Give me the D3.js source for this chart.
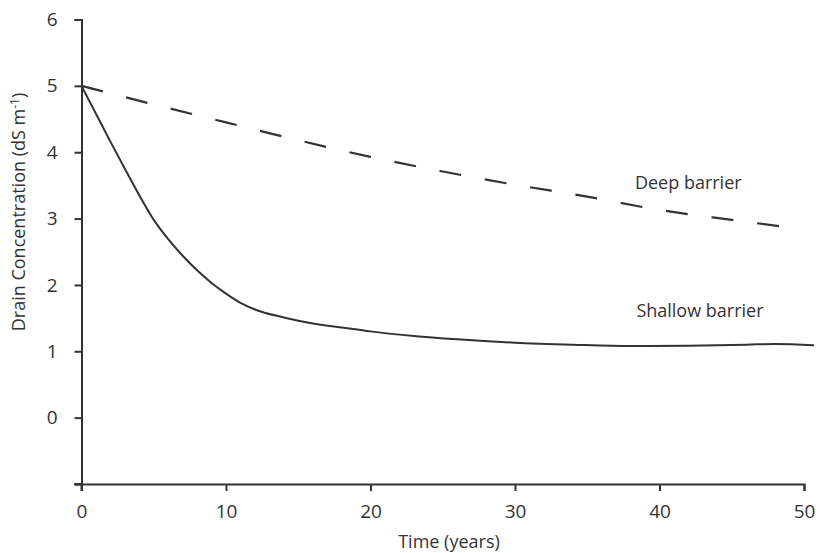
<!DOCTYPE html>
<html><head><meta charset="utf-8">
<script src="https://cdn.jsdelivr.net/npm/d3@7"></script>
<style>
body{margin:0;background:#fff;}
text{font-family:"Open Sans",sans-serif;fill:#333;}
</style></head>
<body><svg id="c" width="820" height="553"></svg>
<script>
const xTicks = [0,10,20,30,40,50];
const yTicks = [0,1,2,3,4,5,6];
const deepT = [0,5,10,15,20,25,30,35,40,45,48.5];
const deepV = [5.0,4.72,4.45,4.18,3.93,3.71,3.51,3.33,3.13,2.98,2.88];
const shallowT = [0,1,2,3,4,5,6,7,8,9,10,11,12,14,16,18,20,23,26,30,34,38,42,46,48,50.7];
const shallowV = [5.0,4.58,4.16,3.75,3.35,2.98,2.69,2.44,2.22,2.03,1.87,1.73,1.63,1.51,1.42,1.36,1.30,1.23,1.18,1.13,1.10,1.08,1.085,1.10,1.11,1.09];
const labels = [{text:"Deep barrier", t:38.3, v:3.445},{text:"Shallow barrier", t:38.4, v:1.517}];

const svg = d3.select("#c");
const x = d3.scaleLinear().domain([0,50]).range([81.5,804]);
const y = d3.scaleLinear().domain([-1,6]).range([484,19.5]);
const ink = "#333";

const xAxis = svg.append("g").attr("transform",`translate(0,${y(-1)})`)
  .call(d3.axisBottom(x).tickValues(xTicks).tickSize(7).tickPadding(14));
const yAxis = svg.append("g").attr("transform",`translate(${x(0)},0)`)
  .call(d3.axisLeft(y).tickValues(yTicks.concat([-1])).tickFormat(d=>d<0?"":d).tickSize(7).tickPadding(17));
[xAxis,yAxis].forEach(g=>{
  g.select(".domain").attr("stroke",ink).attr("stroke-width",2);
  g.selectAll(".tick line").attr("stroke",ink).attr("stroke-width",2);
  g.selectAll(".tick text").attr("font-size",19).attr("fill",ink).style("font-family","'Open Sans',sans-serif");
});
svg.append("line").attr("x1",x(0)).attr("x2",x(0)).attr("y1",y(-1)).attr("y2",y(-1)+7).attr("stroke",ink).attr("stroke-width",2);
svg.append("line").attr("x1",x(0)-7).attr("x2",x(0)).attr("y1",y(-1)).attr("y2",y(-1)).attr("stroke",ink).attr("stroke-width",2);

const line = d3.line().x(d=>x(d[0])).y(d=>y(d[1])).curve(d3.curveMonotoneX);
svg.append("path").datum(deepT.map((t,i)=>[t,deepV[i]]))
  .attr("d",line).attr("fill","none").attr("stroke",ink).attr("stroke-width",2.2)
  .attr("stroke-dasharray","22,24");
svg.append("path").datum(shallowT.map((t,i)=>[t,shallowV[i]]))
  .attr("d",line).attr("fill","none").attr("stroke",ink).attr("stroke-width",2);

labels.forEach(l=>{
  svg.append("text").attr("x",x(l.t)).attr("y",y(l.v)).attr("font-size",18).text(l.text);
});

svg.append("text").attr("x",449).attr("y",548).attr("text-anchor","middle").attr("font-size",18).text("Time (years)");
const yt = svg.append("text").attr("transform","translate(25,212) rotate(-90)").attr("text-anchor","middle").attr("font-size",18);
yt.append("tspan").text("Drain Concentration (dS m");
yt.append("tspan").attr("dy",-6).attr("font-size",12).text("-1");
yt.append("tspan").attr("dy",6).text(")");
</script></body></html>
